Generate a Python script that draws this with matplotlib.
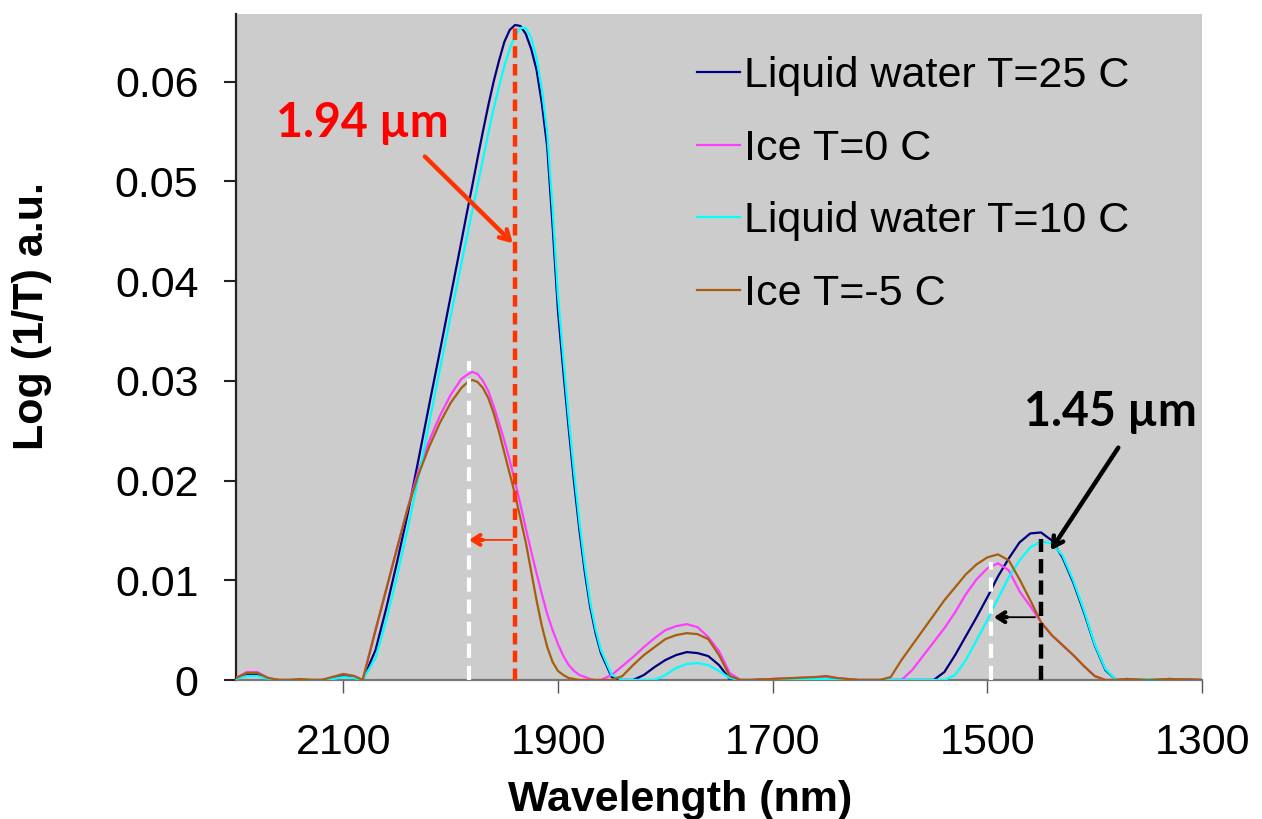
import matplotlib
matplotlib.use("Agg")
import matplotlib.pyplot as plt

# wavelength grid (nm), shared by all four spectra
wavelength = [2200, 2190, 2180, 2170, 2160, 2150, 2140, 2130, 2120, 2110, 2100, 2090, 2082,
              2070, 2060, 2050, 2040, 2030, 2020, 2010, 2000,
              1990, 1985, 1980, 1975, 1970, 1965, 1960, 1955, 1950,
              1945, 1940, 1935, 1930, 1925, 1920, 1915, 1910, 1905, 1900,
              1895, 1890, 1885, 1880, 1875, 1870, 1865, 1860,
              1850, 1840, 1830, 1820, 1810, 1800, 1790, 1780, 1770, 1760, 1750, 1740,
              1730, 1720, 1700, 1680, 1660, 1650, 1640, 1620, 1600, 1590, 1580, 1570, 1560,
              1550, 1540, 1530, 1520, 1510, 1500, 1490, 1480, 1470, 1460, 1450, 1440, 1430,
              1420, 1410, 1400, 1390, 1380, 1370, 1350, 1330, 1300]

water_25 = [0.0001, 0.0006, 0.0006, 0.0001, 0, 0, 0, 0, 0, 0.0002, 0.0004, 0.0003, 0,
            0.0030, 0.0072, 0.0118, 0.0167, 0.0221, 0.0276, 0.0330, 0.0385,
            0.0440, 0.0468, 0.0495, 0.0523, 0.0550, 0.0576, 0.0600, 0.0621, 0.0640,
            0.0652, 0.0657, 0.0656, 0.0648, 0.0633, 0.0612, 0.0578, 0.0534, 0.0455, 0.0370,
            0.0309, 0.0252, 0.0198, 0.0150, 0.0108, 0.0073, 0.0047, 0.0027,
            0.0003, 0, 0, 0.0005, 0.0013, 0.0020, 0.0025, 0.0028, 0.0027, 0.0024, 0.0015, 0.0001,
            0, 0, 0.0001, 0.0001, 0.0002, 0.0002, 0.0001, 0, 0, 0, 0, 0, 0,
            0, 0.0008, 0.0025, 0.0044, 0.0063, 0.0083, 0.0104, 0.0122, 0.0138, 0.0147, 0.0148, 0.0140, 0.0123,
            0.0098, 0.0068, 0.0035, 0.0010, 0, 0.0001, 0, 0.0001, 0]

ice_0 = [0.0002, 0.0008, 0.0008, 0.0002, 0, 0, 0, 0, 0, 0.0003, 0.0006, 0.0004, 0,
         0.0050, 0.0091, 0.0132, 0.0173, 0.0210, 0.0240, 0.0265, 0.0286,
         0.0302, 0.0306, 0.0309, 0.0307, 0.0300, 0.0290, 0.0275, 0.0258, 0.0240,
         0.0220, 0.0199, 0.0176, 0.0152, 0.0129, 0.0107, 0.0086, 0.0066, 0.0050, 0.0036,
         0.0024, 0.0015, 0.0009, 0.0005, 0.0003, 0.0001, 0, 0,
         0.0005, 0.0014, 0.0023, 0.0033, 0.0042, 0.0050, 0.0054, 0.0056, 0.0053, 0.0043, 0.0029, 0.0007,
         0, 0, 0.0001, 0.0002, 0.0003, 0.0003, 0.0002, 0, 0, 0, 0, 0.0010, 0.0024,
         0.0038, 0.0052, 0.0068, 0.0086, 0.0101, 0.0112, 0.0117, 0.0110, 0.0089, 0.0074, 0.0058, 0.0045, 0.0035,
         0.0025, 0.0014, 0.0004, 0, 0, 0.0001, 0, 0.0001, 0]

water_10 = [0.0001, 0.0004, 0.0004, 0.0001, 0, 0, 0, 0, 0, 0.0001, 0.0003, 0.0002, 0,
            0.0022, 0.0060, 0.0104, 0.0152, 0.0203, 0.0258, 0.0312, 0.0365,
            0.0418, 0.0444, 0.0470, 0.0496, 0.0522, 0.0548, 0.0573, 0.0595, 0.0616,
            0.0633, 0.0646, 0.0654, 0.0654, 0.0644, 0.0624, 0.0592, 0.0548, 0.0472, 0.0385,
            0.0322, 0.0262, 0.0208, 0.0158, 0.0115, 0.0078, 0.0051, 0.0030,
            0.0005, 0, 0, 0, 0, 0.0005, 0.0012, 0.0016, 0.0017, 0.0015, 0.0009, 0.0002,
            0, 0, 0, 0.0001, 0.0001, 0.0001, 0, 0, 0, 0, 0, 0, 0,
            0, 0, 0.0005, 0.0020, 0.0040, 0.0060, 0.0082, 0.0103, 0.0120, 0.0133, 0.0139, 0.0137, 0.0125,
            0.0100, 0.0070, 0.0036, 0.0011, 0, 0, 0.0001, 0, 0]

ice_m5 = [0.0002, 0.0007, 0.0007, 0.0002, 0, 0, 0.0001, 0, 0, 0.0003, 0.0006, 0.0004, 0,
          0.0050, 0.0091, 0.0132, 0.0172, 0.0206, 0.0234, 0.0258, 0.0278,
          0.0293, 0.0298, 0.0301, 0.0299, 0.0293, 0.0283, 0.0268, 0.0249, 0.0228,
          0.0207, 0.0186, 0.0162, 0.0138, 0.0109, 0.0080, 0.0054, 0.0033, 0.0018, 0.0009,
          0.0005, 0.0002, 0.0001, 0, 0, 0, 0, 0,
          0, 0.0004, 0.0015, 0.0025, 0.0033, 0.0041, 0.0045, 0.0047, 0.0046, 0.0041, 0.0025, 0.0004,
          0, 0, 0.0001, 0.0002, 0.0003, 0.0004, 0.0002, 0, 0, 0.0003, 0.0020, 0.0035, 0.0050,
          0.0065, 0.0080, 0.0093, 0.0106, 0.0116, 0.0123, 0.0126, 0.0120, 0.0101, 0.0080, 0.0058, 0.0045, 0.0035,
          0.0025, 0.0014, 0.0004, 0, 0, 0.0001, 0, 0.0001, 0]

series = [water_25, ice_0, water_10, ice_m5]
labels = ["Liquid water T=25 C", "Ice T=0 C", "Liquid water T=10 C", "Ice T=-5 C"]
colors = ["#000080", "#FF3CFF", "#00FFFF", "#A65E0E"]

x_ticks = [2100, 1900, 1700, 1500, 1300]
y_ticks = [0, 0.01, 0.02, 0.03, 0.04, 0.05, 0.06]
y_tick_labels = ["0", "0.01", "0.02", "0.03", "0.04", "0.05", "0.06"]

# peak markers: (wavelength, height)
liquid_peak_194 = (1940, 0.0655)
ice_peak_194 = (1983, 0.032)
liquid_peak_145 = (1450, 0.0141)
ice_peak_145 = (1497, 0.0118)

plt.rcParams['font.family'] = ['Liberation Sans', 'DejaVu Sans']

fig = plt.figure(figsize=(12.62, 8.19), dpi=100)
ax = fig.add_axes([236/1262, 1-680/819, 966/1262, 666/819])
ax.set_facecolor("#CCCCCC")

lines = []
for vals, lab, col in zip(series, labels, colors):
    ln, = ax.plot(wavelength, vals, color=col, lw=1.6, label=lab, zorder=3)
    lines.append(ln)

ax.set_xlim(2200, 1300)
ax.set_ylim(0, 0.0668)

# dashed peak lines
ax.vlines(liquid_peak_194[0], 0, liquid_peak_194[1], colors="#FF3300", lw=3.2,
          linestyles=(0, (2.6, 1.4)), zorder=4)
ax.vlines(ice_peak_194[0], 0, ice_peak_194[1], colors="white", lw=3,
          linestyles=(0, (3.4, 1.9)), zorder=4)
ax.vlines(liquid_peak_145[0], 0, liquid_peak_145[1], colors="black", lw=3.2,
          linestyles=(0, (3.2, 1.6)), zorder=4)
ax.vlines(ice_peak_145[0], 0, ice_peak_145[1], colors="white", lw=3,
          linestyles=(0, (3.4, 1.9)), zorder=4)

# shift arrows (thin shaft, bold head)
def shift_arrow(x0, x1, y, col):
    ax.annotate("", xy=(x1, y), xytext=(x0, y),
                arrowprops=dict(arrowstyle="-", color=col, lw=1.3), zorder=5)
    ax.annotate("", xy=(x1, y), xytext=(x1 - (x1 - x0) * 0.3, y),
                arrowprops=dict(arrowstyle="->,head_length=0.55,head_width=0.35",
                                color=col, lw=3, shrinkA=0, shrinkB=0), zorder=5)

shift_arrow(1940, 1983, 0.01405, "#FF3300")
shift_arrow(1453, 1494, 0.0063, "black")

# labels with pointer arrows
ax.text(2082, 0.0559, "1.94 µm", color="#FF0000", fontsize=33.5, fontweight="bold",
        family=["Lato", "DejaVu Sans"], ha="center", va="center", zorder=6)
ax.annotate("", xy=(1942, 0.0438), xytext=(2024, 0.0525),
            arrowprops=dict(arrowstyle="->,head_length=0.7,head_width=0.4",
                            color="#FF3300", lw=3.2, shrinkA=0, shrinkB=0), zorder=6)
ax.text(1385, 0.0269, "1.45 µm", color="black", fontsize=33.5, fontweight="bold",
        family=["Lato", "DejaVu Sans"], ha="center", va="center", zorder=6)
ax.annotate("", xy=(1441, 0.0130), xytext=(1378, 0.0233),
            arrowprops=dict(arrowstyle="->,head_length=0.7,head_width=0.4",
                            color="black", lw=3.2, shrinkA=0, shrinkB=0), zorder=6)

# axes styling
for s in ["top", "right"]:
    ax.spines[s].set_visible(False)
ax.spines["left"].set_color("#222222")
ax.spines["left"].set_linewidth(1.6)
ax.spines["bottom"].set_color("#777777")
ax.spines["bottom"].set_linewidth(1.6)

ax.set_xticks(x_ticks)
ax.set_xticklabels([str(t) for t in x_ticks])
ax.set_yticks(y_ticks)
ax.set_yticklabels(y_tick_labels)
ax.tick_params(axis="x", direction="out", length=9, width=1, color="#555555",
               labelsize=31, pad=22)
ax.tick_params(axis="y", direction="out", length=9, width=1.5, color="#222222",
               labelsize=31, pad=18)

ax.set_xlabel("Wavelength (nm)", fontsize=31, fontweight="bold")
ax.xaxis.set_label_coords(0.46, -0.15)
ax.set_ylabel("Log (1/T) a.u.", fontsize=31, fontweight="bold")
ax.yaxis.set_label_coords(-0.19, 0.547)

ax.legend(handles=lines, loc="upper left", bbox_to_anchor=(0.477, 0.937),
          frameon=False, fontsize=31, handlelength=1.0, handletextpad=0.1,
          labelspacing=0.76, borderpad=0, borderaxespad=0)

fig.savefig("out.png", dpi=100, facecolor="white")
